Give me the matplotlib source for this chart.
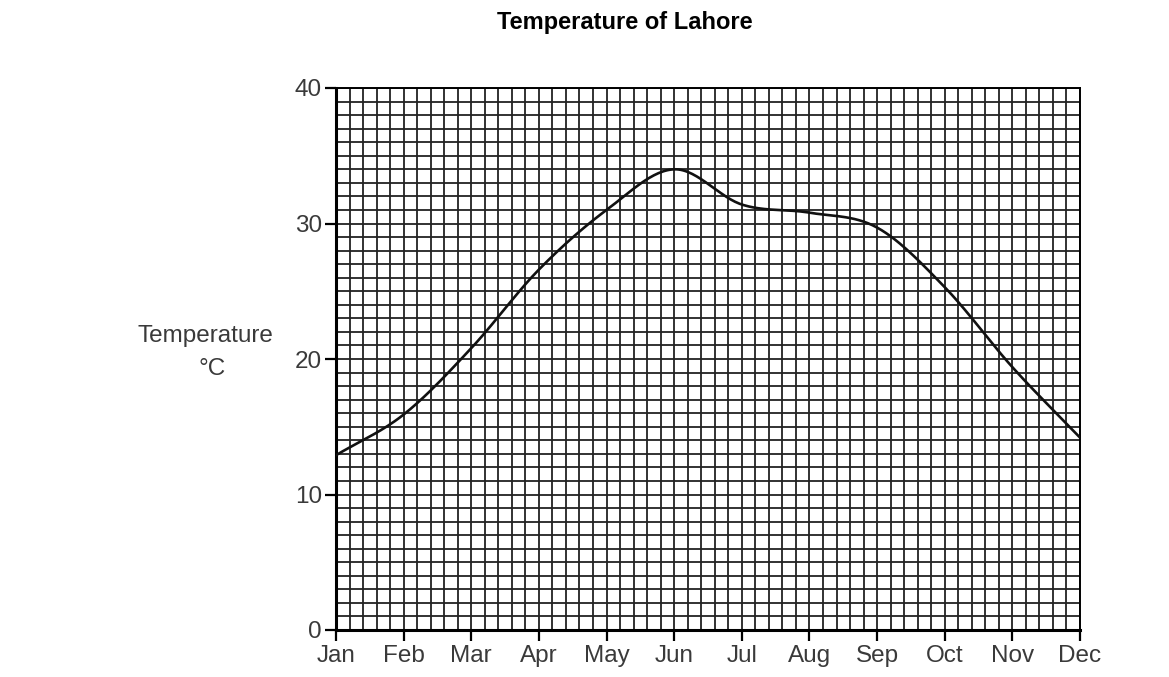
import numpy as np
import matplotlib
matplotlib.use("Agg")
import matplotlib.pyplot as plt
from matplotlib.ticker import MultipleLocator

months = ["Jan", "Feb", "Mar", "Apr", "May", "Jun", "Jul", "Aug", "Sep", "Oct", "Nov", "Dec"]
temps = [12.9, 15.9, 20.8, 26.6, 31.0, 34.0, 31.4, 30.8, 29.7, 25.3, 19.4, 14.2]
yticks = [0, 10, 20, 30, 40]

plt.rcParams['font.family'] = ['Liberation Sans', 'DejaVu Sans']

fig = plt.figure(figsize=(11.69, 6.77), dpi=100)
ax = fig.add_axes([336/1169, 1-630/677, (1080-336)/1169, (630-88)/677])

x = np.arange(len(months))
y = np.array(temps, dtype=float)

# Catmull-Rom smoothing for drawing the curve through the monthly values
def catmull(xp, yp, n=30):
    P = np.column_stack([xp, yp])
    P = np.vstack([2*P[0]-P[1], P, 2*P[-1]-P[-2]])
    out = []
    t = np.linspace(0, 1, n, endpoint=False)
    for i in range(1, len(P)-2):
        p0, p1, p2, p3 = P[i-1], P[i], P[i+1], P[i+2]
        tt = t[:, None]
        pts = 0.5*((2*p1) + (-p0+p2)*tt + (2*p0-5*p1+4*p2-p3)*tt**2 + (-p0+3*p1-3*p2+p3)*tt**3)
        out.append(pts)
    out.append(P[-2][None, :])
    return np.vstack(out)

curve = catmull(x, y)

ax.set_xlim(0, 11)
ax.set_ylim(0, 40)
ax.xaxis.set_minor_locator(MultipleLocator(0.2))
ax.yaxis.set_minor_locator(MultipleLocator(1))
ax.set_xticks(x)
ax.set_xticklabels(months)
ax.set_yticks(yticks)
ax.grid(which='both', color='#222222', linewidth=1.3)
ax.set_axisbelow(True)
ax.plot(curve[:, 0], curve[:, 1], color='#111111', linewidth=1.9, zorder=3)

ax.tick_params(axis='both', which='minor', length=0)
ax.tick_params(axis='both', which='major', labelsize=17.5, labelcolor='#3a3a3a', width=1.6, length=8, color='black')
ax.tick_params(axis='x', pad=3)
ax.tick_params(axis='y', pad=2)
for s in ['left', 'bottom']:
    ax.spines[s].set_linewidth(2.2)
for s in ['top', 'right']:
    ax.spines[s].set_linewidth(1.4)

fig.text(625/1169, 1-23/677, "Temperature of Lahore", ha='center', va='center', fontsize=17, fontweight='bold')
fig.text(205/1169, 1-336/677, "Temperature", ha='center', va='center', fontsize=17.5, color='#3a3a3a')
fig.text(212/1169, 1-369/677, "°C", ha='center', va='center', fontsize=17.5, color='#3a3a3a')

fig.savefig("out.png", dpi=100, facecolor='white')
